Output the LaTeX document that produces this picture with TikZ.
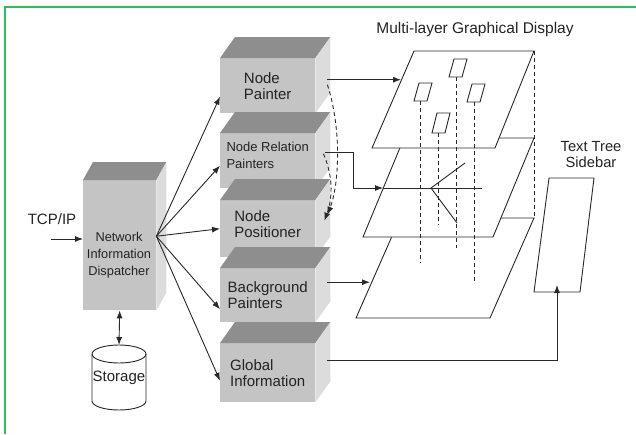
\documentclass[tikz,border=0pt]{standalone}
\usepackage{fontspec}
\setmainfont{Liberation Sans}
\usetikzlibrary{arrows.meta,positioning,calc}

\definecolor{facegray}{RGB}{196,196,196}
\definecolor{topgray}{RGB}{142,142,142}
\definecolor{sidegray}{RGB}{220,220,220}
\definecolor{linegray}{RGB}{40,40,40}
\definecolor{textgray}{RGB}{35,35,35}
\definecolor{framegreen}{RGB}{45,190,90}

% top and side face of a box node: name, depth x, depth y
\newcommand{\boxfaces}[3]{%
  \fill[topgray] (#1.north west) -- ++(#2,-#3) -- ($(#1.north east)+(#2,-#3)$) -- (#1.north east) -- cycle;
  \fill[sidegray] (#1.north east) -- ++(#2,-#3) -- ($(#1.south east)+(#2,-#3)$) -- (#1.south east) -- cycle;
}

\begin{document}
\begin{tikzpicture}[x=1pt, y=-1pt, >={Latex[length=8pt,width=6pt]},
    block/.style={fill=facegray, minimum width=95pt, inner sep=0pt, align=left,
      anchor=north west, text=textgray, font=\fontsize{15}{16}\selectfont},
    conn/.style={draw=linegray, line width=0.9pt},
    plane/.style={draw=linegray, fill=white, line width=0.9pt},
    guide/.style={draw=linegray, line width=0.9pt, dash pattern=on 4pt off 3pt},
    label/.style={text=textgray, inner sep=0pt, align=center}]
  \useasboundingbox (0,0) rectangle (636,434);

  % frame
  \draw[framegreen, line width=1.2pt] (5,434) -- (5,7) -- (636,7);

  % dispatcher
  \node[block, minimum width=73pt, minimum height=130pt] (nid) at (83,180) {};
  \boxfaces{nid}{10}{18}
  \node[label, font=\fontsize{12.8}{17}\selectfont] (nidtext) at (119,255)
    {Network\\Information\\Dispatcher};

  % input
  \node[label, font=\fontsize{15}{16}\selectfont] (tcp) at (52,219) {TCP/IP};
  \coordinate (tcpin) at (51,239);
  \draw[conn,->] (tcpin) -- (tcpin -| nid.west);

  % storage cylinder
  \draw[linegray, line width=0.9pt, fill=white] (92,354) -- (92,401)
    arc[start angle=180, end angle=0, x radius=27, y radius=9] -- (146,354);
  \draw[linegray, line width=0.9pt] (119,354) ellipse[x radius=27, y radius=9];
  \node[label, font=\fontsize{15}{16}\selectfont] (sto) at (119,378) {Storage};
  \coordinate (stotop) at (119,345);
  \draw[conn,<->] (nid.south) -- (stotop);

  % painter stack
  \node[block, minimum height=55pt] (np) at (220,58) {Node\\Painter};
  \boxfaces{np}{15}{21}
  \node[block, minimum height=55pt, font=\fontsize{13}{17}\selectfont] (nrp) at (220,133)
    {Node Relation\\Painters\rule[-10pt]{0pt}{10pt}};
  \boxfaces{nrp}{15}{21}
  \node[block, minimum height=57pt] (pos) at (220,200) {Node\\Positioner\rule[-10pt]{0pt}{10pt}};
  \boxfaces{pos}{15}{21}
  \node[block, minimum height=54pt] (bgp) at (220,268) {Background\\Painters};
  \boxfaces{bgp}{15}{21}
  \node[block, minimum height=59pt] (glo) at (220,343) {Global\\Information};
  \boxfaces{glo}{15}{21}

  % fan out
  \coordinate (fan) at ($(nid.east)+(0,-9)$);
  \foreach \t/\dy in {np/11, nrp/5, pos/0, bgp/14, glo/8}
    \draw[conn,->] (fan) -- ($(\t.west)+(0,\dy)$);

  % display layers
  \draw[plane] (400,218) -- (534,218) -- (490,318) -- (356,318) -- cycle;
  \draw[plane] (404,138) -- (534,138) -- (493,237) -- (363,237) -- cycle;
  \draw[plane] (414,51) -- (534,51) -- (495,148) -- (372,148) -- cycle;
  \node[label, font=\fontsize{15.5}{17}\selectfont] (title) at (475,29)
    {Multi-layer Graphical Display};

  % nodes on top layer
  \foreach \x/\y/\h in {449/77/18, 414/101/18, 467/102/18, 432/133/20}
    \draw[plane] (\x,\y) -- ++(13,0) -- ++(5,-\h) -- ++(-13,0) -- cycle;

  % tree on middle layer
  \coordinate (mpin) at (383,188);
  \draw[conn] (mpin) -- (482,188);
  \draw[conn] (465,163) -- (431,188) -- (457,223);

  % projections
  \foreach \x/\ya/\yb in {420/101/263, 438/133/225, 456/77/248, 474/102/283, 534/51/218}
    \draw[guide] (\x,\ya) -- (\x,\yb);

  % sidebar
  \draw[plane] (549,178) -- (594,178) -- (580,292) -- (534,292) -- cycle;
  \node[label, font=\fontsize{14.7}{16}\selectfont] (sbtitle) at (591,155)
    {Text Tree\\Sidebar};

  % painters to layers
  \coordinate (tpin) at (401,80);
  \coordinate (lpin) at (370,282);
  \coordinate (sbin) at (557,285);
  \coordinate (npout) at ($(np.east)+(12,-6)$);
  \coordinate (nrpout) at ($(nrp.east)+(10,-8)$);
  \coordinate (bgpout) at ($(bgp.east)+(12,-13)$);
  \coordinate (gloout) at ($(glo.east)+(12,-12)$);
  \draw[conn,->] (npout) -- (npout -| tpin);
  \draw[conn,->] (nrpout) -- ++(28,0) |- (mpin);
  \draw[conn,->] (bgpout) -- (bgpout -| lpin);
  \draw[conn,->] (gloout) -| (sbin);

  % position feedback
  \draw[guide,->] ($(np.east)+(12,-1)$) .. controls (342,130) and (339,185) .. ($(pos.east)+(12,-14)$);
  \draw[guide,->] ($(nrp.east)+(8,-7)$) .. controls (334,178) and (332,200) .. ($(pos.east)+(9,-8)$);
\end{tikzpicture}
\end{document}
